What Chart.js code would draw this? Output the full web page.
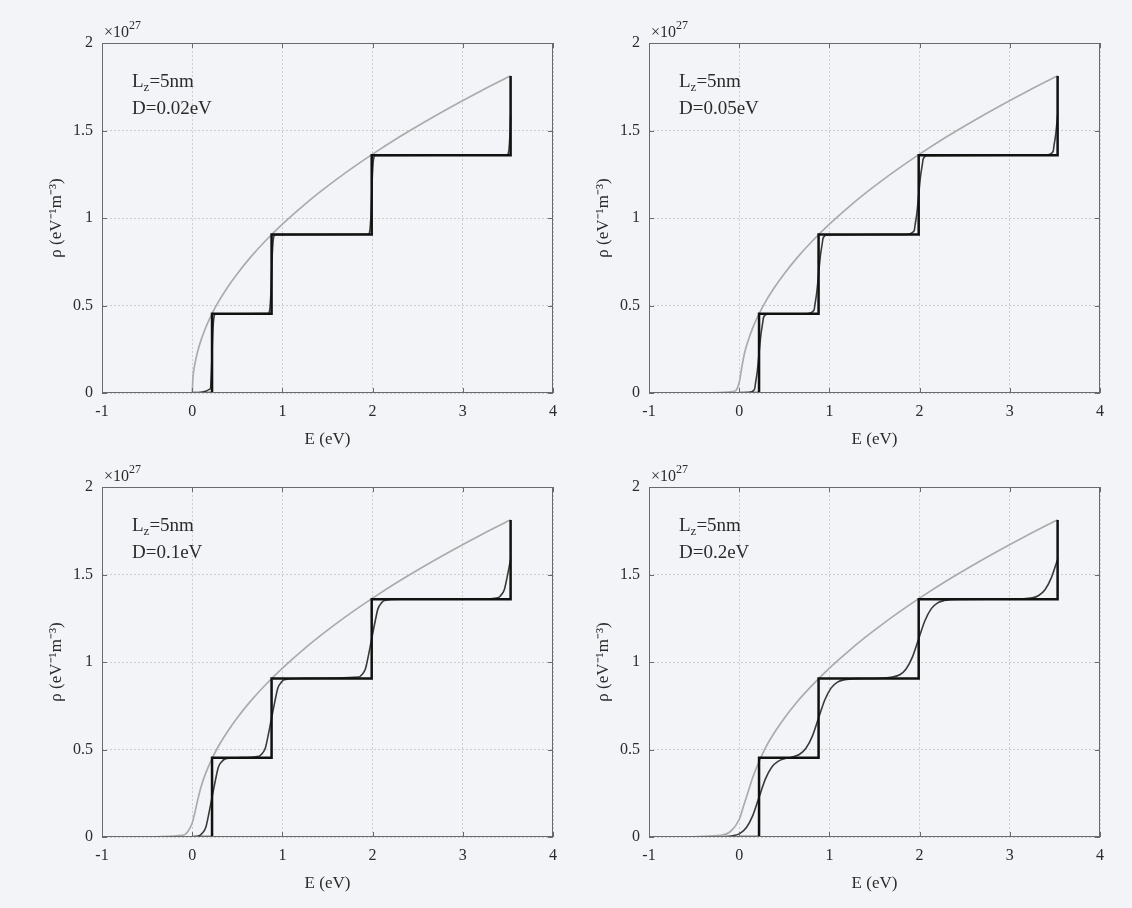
<!DOCTYPE html>
<html lang="en">
<head>
<meta charset="UTF-8">
<title>Quantum well density of states</title>
<script src="https://cdn.jsdelivr.net/npm/chart.js"></script>
<style>
    body {
        margin: 0;
        padding: 0;
        width: 1132px;
        height: 908px;
        overflow: hidden;
        position: relative;
        background-color: #f3f4f7;
        font-family: "Liberation Serif", serif;
    }

    canvas.panel {
        position: absolute;
    }
</style>
</head>
<body>
<canvas id="dos1" class="panel" width="566" height="455" style="left:0px;top:0px"></canvas>
<canvas id="dos2" class="panel" width="566" height="455" style="left:547px;top:0px"></canvas>
<canvas id="dos3" class="panel" width="566" height="455" style="left:0px;top:444px"></canvas>
<canvas id="dos4" class="panel" width="566" height="455" style="left:547px;top:444px"></canvas>

<script>
// axis ticks
const energyTicks = [-1, 0, 1, 2, 3, 4];
const rhoTicks = [0, 0.5, 1, 1.5, 2];

// ideal staircase (units of 1e27 eV^-1 m^-3)
const stepE   = [0, 0.22, 0.22, 0.88, 0.88, 1.99, 1.99, 3.53, 3.53];
const stepRho = [0, 0, 0.453, 0.453, 0.906, 0.906, 1.359, 1.359, 1.812];

// bulk (3D) curve, gray, per panel
const bulkE1   = [0, 0.01, 0.03, 0.06, 0.1, 0.15, 0.22, 0.3, 0.4, 0.5, 0.65, 0.8, 1.0, 1.2, 1.4, 1.6, 1.8, 2.0, 2.3, 2.6, 2.9, 3.2, 3.53];
const bulkRho1 = [0, 0.097, 0.167, 0.236, 0.305, 0.374, 0.453, 0.529, 0.610, 0.682, 0.778, 0.863, 0.965, 1.057, 1.142, 1.221, 1.295, 1.365, 1.464, 1.556, 1.643, 1.726, 1.813];
const bulkE2   = [-0.5, -0.05, 0, 0.03, 0.06, 0.1, 0.15, 0.22, 0.3, 0.4, 0.5, 0.65, 0.8, 1.0, 1.2, 1.4, 1.6, 1.8, 2.0, 2.3, 2.6, 2.9, 3.2, 3.53];
const bulkRho2 = [0, 0.01, 0.06, 0.15, 0.23, 0.30, 0.372, 0.452, 0.529, 0.610, 0.682, 0.778, 0.863, 0.965, 1.057, 1.142, 1.221, 1.295, 1.365, 1.464, 1.556, 1.643, 1.726, 1.813];
const bulkE3   = [-0.75, -0.1, -0.05, 0, 0.03, 0.06, 0.1, 0.15, 0.22, 0.3, 0.4, 0.5, 0.65, 0.8, 1.0, 1.2, 1.4, 1.6, 1.8, 2.0, 2.3, 2.6, 2.9, 3.2, 3.53];
const bulkRho3 = [0, 0.01, 0.03, 0.08, 0.14, 0.21, 0.29, 0.365, 0.448, 0.527, 0.609, 0.682, 0.778, 0.863, 0.965, 1.057, 1.142, 1.221, 1.295, 1.365, 1.464, 1.556, 1.643, 1.726, 1.813];
const bulkE4   = [-0.8, -0.2, -0.1, 0, 0.05, 0.1, 0.15, 0.22, 0.3, 0.4, 0.5, 0.65, 0.8, 1.0, 1.2, 1.4, 1.6, 1.8, 2.0, 2.3, 2.6, 2.9, 3.2, 3.53];
const bulkRho4 = [0, 0.01, 0.03, 0.10, 0.18, 0.26, 0.34, 0.43, 0.518, 0.604, 0.679, 0.777, 0.862, 0.965, 1.057, 1.142, 1.221, 1.295, 1.365, 1.464, 1.556, 1.643, 1.726, 1.813];

// broadened staircase, per broadening D
const smoothE1   = [0, 0.2, 0.213, 0.22, 0.227, 0.24, 0.26, 0.84, 0.86, 0.873, 0.88, 0.887, 0.9, 0.92, 1.95, 1.97, 1.983, 1.99, 1.997, 2.01, 2.03, 3.49, 3.51, 3.523, 3.53];
const smoothRho1 = [0, 0.024, 0.122, 0.227, 0.331, 0.429, 0.452, 0.454, 0.477, 0.575, 0.680, 0.784, 0.882, 0.905, 0.907, 0.930, 1.028, 1.133, 1.237, 1.335, 1.357, 1.360, 1.383, 1.481, 1.586];
const smoothE2   = [0, 0.1, 0.17, 0.18, 0.2, 0.22, 0.24, 0.26, 0.27, 0.31, 0.75, 0.83, 0.84, 0.86, 0.88, 0.9, 0.92, 0.93, 0.97, 1.85, 1.94, 1.95, 1.97, 1.99, 2.01, 2.03, 2.04, 2.08, 3.4, 3.48, 3.49, 3.51, 3.53];
const smoothRho2 = [0, 0.002, 0.021, 0.054, 0.122, 0.227, 0.331, 0.399, 0.432, 0.450, 0.453, 0.474, 0.507, 0.575, 0.680, 0.784, 0.852, 0.885, 0.903, 0.906, 0.927, 0.960, 1.028, 1.133, 1.237, 1.305, 1.338, 1.356, 1.359, 1.380, 1.413, 1.481, 1.586];
const smoothE3   = [-0.1, 0, 0.08, 0.11, 0.15, 0.18, 0.22, 0.26, 0.29, 0.33, 0.36, 0.5, 0.74, 0.77, 0.81, 0.84, 0.88, 0.92, 0.95, 0.99, 1.02, 1.2, 1.85, 1.88, 1.92, 1.95, 1.99, 2.03, 2.06, 2.1, 2.13, 2.3, 3.2, 3.39, 3.42, 3.46, 3.49, 3.53];
const smoothRho3 = [0, 0.001, 0.008, 0.021, 0.054, 0.122, 0.227, 0.331, 0.399, 0.432, 0.445, 0.453, 0.461, 0.474, 0.507, 0.575, 0.680, 0.784, 0.852, 0.885, 0.898, 0.906, 0.914, 0.927, 0.960, 1.028, 1.133, 1.237, 1.305, 1.338, 1.351, 1.359, 1.359, 1.367, 1.380, 1.413, 1.481, 1.586];
const smoothE4   = [-0.35, -0.2, -0.06, 0.01, 0.08, 0.15, 0.22, 0.29, 0.36, 0.43, 0.5, 0.6, 0.67, 0.74, 0.81, 0.88, 0.95, 1.02, 1.09, 1.16, 1.3, 1.5, 1.7, 1.78, 1.85, 1.92, 1.99, 2.06, 2.13, 2.2, 2.27, 2.42, 3.0, 3.25, 3.32, 3.39, 3.46, 3.53];
const smoothRho4 = [0, 0.001, 0.008, 0.021, 0.054, 0.122, 0.227, 0.331, 0.399, 0.432, 0.447, 0.459, 0.473, 0.507, 0.575, 0.680, 0.784, 0.852, 0.885, 0.898, 0.905, 0.906, 0.914, 0.927, 0.960, 1.028, 1.133, 1.237, 1.305, 1.338, 1.351, 1.358, 1.359, 1.367, 1.380, 1.413, 1.481, 1.586];

const panelLabels = ['D=0.02eV', 'D=0.05eV', 'D=0.1eV', 'D=0.2eV'];

const SERIF = '"Liberation Serif", "Times New Roman", serif';
const TEXT = '#2b2b2b';

function toPoints(xs, ys) {
    return xs.map((x, i) => ({ x: x, y: ys[i] }));
}

// box, inward ticks, exponent and the text in the corner
const decorPlugin = {
    id: 'decor',
    afterDraw(chart, args, opts) {
        const ctx = chart.ctx;
        const a = chart.chartArea;
        const sx = chart.scales.x, sy = chart.scales.y;
        ctx.save();
        ctx.strokeStyle = '#6a6a6a';
        ctx.lineWidth = 1;
        ctx.strokeRect(a.left + 0.5, a.top + 0.5, a.right - a.left - 1, a.bottom - a.top - 1);

        ctx.beginPath();
        energyTicks.forEach(v => {
            const px = Math.round(sx.getPixelForValue(v)) + 0.5;
            ctx.moveTo(px, a.bottom); ctx.lineTo(px, a.bottom - 5);
            ctx.moveTo(px, a.top); ctx.lineTo(px, a.top + 5);
        });
        rhoTicks.forEach(v => {
            const py = Math.round(sy.getPixelForValue(v)) + 0.5;
            ctx.moveTo(a.left, py); ctx.lineTo(a.left + 5, py);
            ctx.moveTo(a.right, py); ctx.lineTo(a.right - 5, py);
        });
        ctx.stroke();

        ctx.fillStyle = TEXT;
        ctx.textBaseline = 'alphabetic';
        ctx.textAlign = 'left';
        ctx.font = '16px ' + SERIF;
        ctx.fillText('×10', a.left + 2, a.top - 6);
        let w = ctx.measureText('×10').width;
        ctx.font = '12px ' + SERIF;
        ctx.fillText('27', a.left + 2 + w, a.top - 14);

        const tx = a.left + 30;
        ctx.font = '19px ' + SERIF;
        ctx.fillText('L', tx, a.top + 44);
        w = ctx.measureText('L').width;
        ctx.font = '13px ' + SERIF;
        ctx.fillText('z', tx + w, a.top + 48);
        const wz = ctx.measureText('z').width;
        ctx.font = '19px ' + SERIF;
        ctx.fillText('=5nm', tx + w + wz, a.top + 44);
        ctx.fillText(opts.label, tx, a.top + 71);
        ctx.restore();
    }
};

function makePanel(id, label, bulkE, bulkRho, smoothE, smoothRho) {
    return new Chart(document.getElementById(id), {
        type: 'line',
        data: {
            datasets: [
                {
                    label: 'step',
                    data: toPoints(stepE, stepRho),
                    borderColor: '#111111',
                    borderWidth: 2.5,
                    tension: 0,
                    order: 0
                },
                {
                    label: 'broadened',
                    data: toPoints(smoothE, smoothRho),
                    borderColor: '#3a3a3a',
                    borderWidth: 1.6,
                    cubicInterpolationMode: 'monotone',
                    order: 1
                },
                {
                    label: 'bulk',
                    data: toPoints(bulkE, bulkRho),
                    borderColor: '#ababab',
                    borderWidth: 1.7,
                    cubicInterpolationMode: 'monotone',
                    order: 2
                }
            ]
        },
        options: {
            responsive: false,
            animation: false,
            events: [],
            elements: { point: { radius: 0 } },
            layout: { padding: { top: 43, right: 12, left: 0, bottom: 0 } },
            plugins: {
                legend: { display: false },
                tooltip: { enabled: false },
                decor: { label: label }
            },
            scales: {
                x: {
                    type: 'linear',
                    min: -1,
                    max: 4,
                    afterBuildTicks: s => { s.ticks = energyTicks.map(v => ({ value: v })); },
                    afterFit: s => { s.height = 62; },
                    grid: { color: '#cdcdcd', drawTicks: false },
                    border: { display: false, dash: [2, 2] },
                    ticks: { color: TEXT, padding: 9, font: { family: SERIF, size: 16 }, callback: v => String(v) },
                    title: {
                        display: true,
                        text: 'E (eV)',
                        color: TEXT,
                        padding: { top: 5, bottom: 5 },
                        font: { family: SERIF, size: 17 }
                    }
                },
                y: {
                    type: 'linear',
                    min: 0,
                    max: 2,
                    afterBuildTicks: s => { s.ticks = rhoTicks.map(v => ({ value: v })); },
                    afterFit: s => { s.width = 102; },
                    grid: { color: '#cdcdcd', drawTicks: false },
                    border: { display: false, dash: [2, 2] },
                    ticks: { color: TEXT, padding: 9, font: { family: SERIF, size: 16 }, callback: v => String(v) },
                    title: {
                        display: true,
                        text: 'ρ (eV⁻¹m⁻³)',
                        color: TEXT,
                        padding: { top: 46, bottom: 0 },
                        font: { family: SERIF, size: 17 }
                    }
                }
            }
        },
        plugins: [decorPlugin]
    });
}

makePanel('dos1', panelLabels[0], bulkE1, bulkRho1, smoothE1, smoothRho1);
makePanel('dos2', panelLabels[1], bulkE2, bulkRho2, smoothE2, smoothRho2);
makePanel('dos3', panelLabels[2], bulkE3, bulkRho3, smoothE3, smoothRho3);
makePanel('dos4', panelLabels[3], bulkE4, bulkRho4, smoothE4, smoothRho4);
</script>
</body>
</html>
